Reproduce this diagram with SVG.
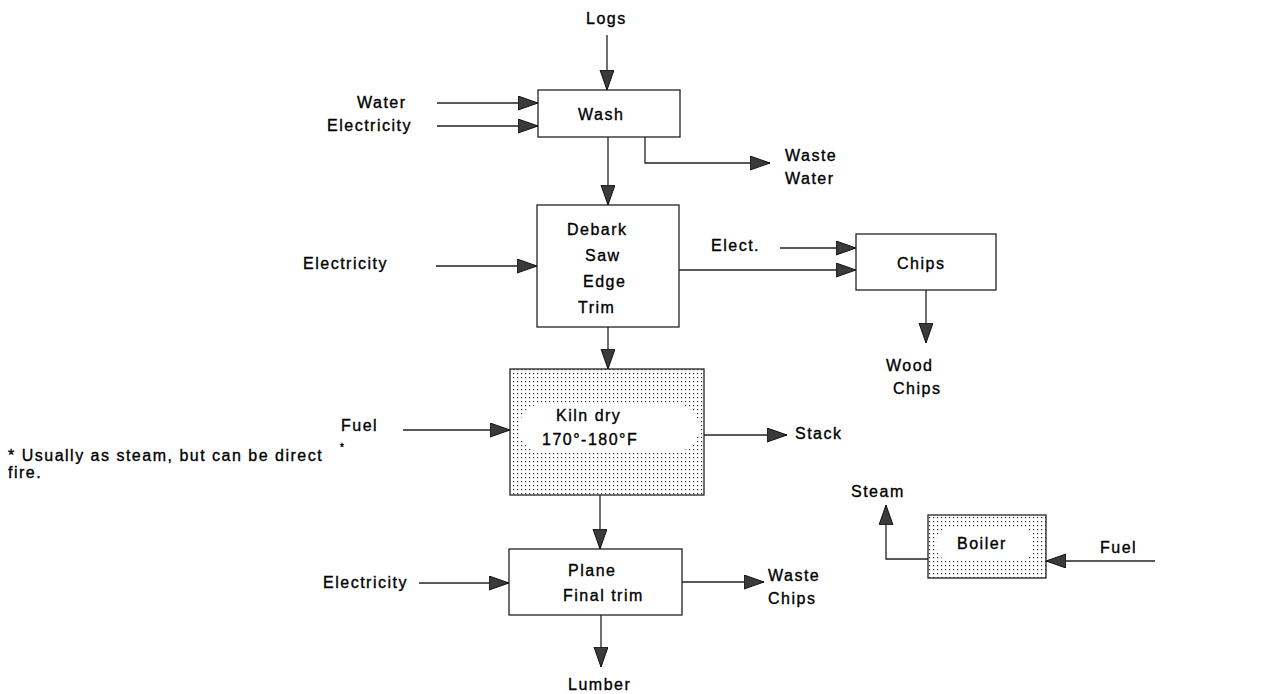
<svg xmlns="http://www.w3.org/2000/svg" width="1272" height="694" viewBox="0 0 1272 694">
<defs>
<style>
text{font-family:"Liberation Sans",Arial,sans-serif;font-size:16px;letter-spacing:1.5px;fill:#000;stroke:#000;stroke-width:0.35}
.box{fill:#fff;stroke:#222;stroke-width:1.3}
.dot{fill:url(#dots);stroke:#222;stroke-width:1.3}
.hole{fill:#fff;stroke:none}
.c{fill:none;stroke:#222;stroke-width:1.3;marker-end:url(#ah)}
</style>
<pattern id="dots" width="4" height="4" patternUnits="userSpaceOnUse">
<rect width="4" height="4" fill="#fff"/>
<rect x="1" y="1" width="1.2" height="1.2" fill="#333"/>
</pattern>
<marker id="ah" markerUnits="userSpaceOnUse" markerWidth="22" markerHeight="16" refX="20" refY="7" orient="auto">
<path d="M0,0 L20,7 L0,14 Z" fill="#3a3a3a" stroke="#111" stroke-width="1"/>
</marker>
</defs>

<g id="connectors">
<line class="c" x1="607" y1="35" x2="607" y2="90"/>
<line class="c" x1="437" y1="103" x2="538" y2="103"/>
<line class="c" x1="437" y1="126" x2="538" y2="126"/>
<line class="c" x1="608" y1="137" x2="608" y2="205"/>
<polyline class="c" points="645,137 645,163 770,163"/>
<line class="c" x1="436" y1="266" x2="537" y2="266"/>
<line class="c" x1="679" y1="270" x2="856" y2="270"/>
<line class="c" x1="780" y1="248" x2="856" y2="248"/>
<line class="c" x1="926" y1="290" x2="926" y2="343"/>
<line class="c" x1="608" y1="327" x2="608" y2="369"/>
<line class="c" x1="403" y1="430" x2="510" y2="430"/>
<line class="c" x1="704" y1="435" x2="787" y2="435"/>
<line class="c" x1="600" y1="495" x2="600" y2="549"/>
<line class="c" x1="419" y1="583" x2="509" y2="583"/>
<line class="c" x1="682" y1="582" x2="764" y2="582"/>
<line class="c" x1="601" y1="615" x2="601" y2="667"/>
<polyline class="c" points="928,559 886,559 886,505"/>
<line class="c" x1="1155" y1="561" x2="1046" y2="561"/>
</g>

<g id="wash">
<rect class="box" x="538" y="90" width="142" height="47"/>
<text x="578" y="120">Wash</text>
</g>
<g id="debark">
<rect class="box" x="537" y="205" width="142" height="122"/>
<text x="567" y="235">Debark</text>
<text x="585" y="261">Saw</text>
<text x="583" y="287">Edge</text>
<text x="578" y="313">Trim</text>
</g>
<g id="chips">
<rect class="box" x="856" y="234" width="140" height="56"/>
<text x="897" y="269">Chips</text>
</g>
<g id="kiln">
<rect class="dot" x="510" y="369" width="194" height="126"/>
<rect class="hole" x="519" y="404" width="180" height="48" rx="24"/>
<text x="556" y="421">Kiln dry</text>
<text x="542" y="445">170°-180°F</text>
</g>
<g id="plane">
<rect class="box" x="509" y="549" width="173" height="66"/>
<text x="568" y="576">Plane</text>
<text x="563" y="601">Final trim</text>
</g>
<g id="boiler">
<rect class="dot" x="928" y="515" width="118" height="63"/>
<rect class="hole" x="937" y="528" width="96" height="32" rx="12"/>
<text x="957" y="549">Boiler</text>
</g>

<g id="labels">
<text x="586" y="24">Logs</text>
<text x="357" y="108">Water</text>
<text x="327" y="131">Electricity</text>
<text x="785" y="161">Waste</text>
<text x="785" y="184">Water</text>
<text x="303" y="269">Electricity</text>
<text x="711" y="251">Elect.</text>
<text x="886" y="371">Wood</text>
<text x="893" y="394">Chips</text>
<text x="341" y="431">Fuel</text>
<text x="340" y="451" style="font-size:10px">*</text>
<text x="795" y="439">Stack</text>
<text x="8" y="461">* Usually as steam, but can be direct</text>
<text x="8" y="478">fire.</text>
<text x="851" y="497">Steam</text>
<text x="1100" y="553">Fuel</text>
<text x="323" y="588">Electricity</text>
<text x="768" y="581">Waste</text>
<text x="768" y="604">Chips</text>
<text x="568" y="690">Lumber</text>
</g>
</svg>
